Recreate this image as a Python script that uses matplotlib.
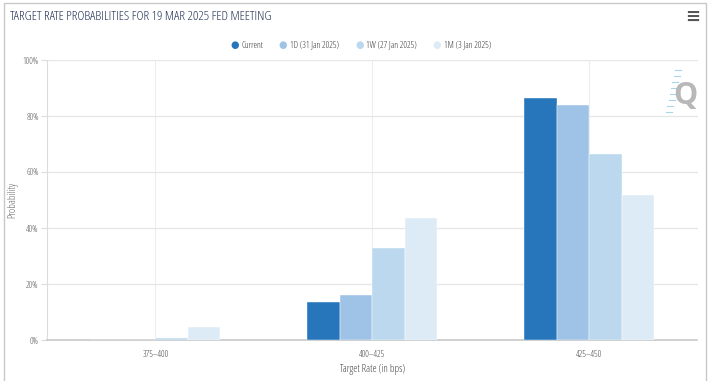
import matplotlib.pyplot as plt
import numpy as np
from matplotlib.patches import Rectangle
from matplotlib.ticker import FuncFormatter

# Target rate buckets (bps)
categories = ["375-400", "400-425", "425-450"]

# Probabilities in percent
current = [0.0, 13.6, 86.4]
one_day = [0.0, 16.1, 83.9]
one_week = [0.7, 32.9, 66.4]
one_month = [4.6, 43.6, 51.8]

series_names = ["Current", "1D (31 Jan 2025)", "1W (27 Jan 2025)", "1M (3 Jan 2025)"]
colors = ["#2775bb", "#9fc3e6", "#bcd8ee", "#ddebf7"]

# condensed Open Sans, like the original page
TXT = dict(family=["Open Sans", "DejaVu Sans"], fontstretch="condensed", fontweight="normal")


def main():
    fig = plt.figure(figsize=(7.14, 3.81), dpi=100)
    W, H = 714, 381

    # outer frame
    fig.patches.append(Rectangle((4 / W, -0.01), 702 / W, 1 - 3 / H + 0.01,
                                 transform=fig.transFigure, fill=False,
                                 edgecolor="#c8c8c8", linewidth=1))

    ax = fig.add_axes([47 / W, 41 / H, 650.5 / W, 280 / H])

    data = [current, one_day, one_week, one_month]
    x = np.arange(len(categories))
    width = 0.15
    for i, (vals, name, col) in enumerate(zip(data, series_names, colors)):
        ax.bar(x + (i - 1.5) * width, vals, width, color=col, label=name,
               edgecolor="white", linewidth=0.3, zorder=3)

    ax.set_xlim(-0.5, 2.5)
    ax.set_ylim(0, 100)
    ax.set_yticks([0, 20, 40, 60, 80, 100])
    ax.yaxis.set_major_formatter(FuncFormatter(lambda v, p: "%d%%" % v))
    ax.set_xticks(x)
    ax.set_xticklabels([c.replace("-", "\u2013") for c in categories])

    ax.grid(axis="y", color="#e6e6e6", linewidth=0.9, zorder=0)
    ax.grid(axis="x", color="#ececec", linewidth=0.7, zorder=0)
    for s in ["top", "right"]:
        ax.spines[s].set_visible(False)
    ax.spines["left"].set_color("#dcdcdc")
    ax.spines["bottom"].set_color("#c8c8c8")
    ax.spines["bottom"].set_linewidth(1.2)
    ax.tick_params(axis="y", length=4, color="#dcdcdc", labelsize=6.5, labelcolor="#555555", pad=2)
    ax.tick_params(axis="x", length=0, labelsize=6.5, labelcolor="#444444", pad=7)
    for lab in ax.get_xticklabels() + ax.get_yticklabels():
        lab.set(**TXT)

    ax.set_ylabel("Probability", fontsize=7.5, color="#666666", **TXT)
    ax.yaxis.set_label_coords(-29 / 650.5, 0.5)
    ax.set_xlabel("Target Rate (in bps)", fontsize=7.5, color="#444444", labelpad=4, **TXT)

    leg = ax.legend(loc="center", bbox_to_anchor=(360 / W, 1 - 45 / H),
                    bbox_transform=fig.transFigure, ncol=4, frameon=False,
                    handlelength=0.8, handletextpad=0.6, columnspacing=1.6,
                    prop={"family": TXT["family"], "stretch": "condensed", "size": 6.5})
    for h in leg.legend_handles:
        h.set_visible(False)
    for txt in leg.get_texts():
        txt.set_color("#333333")
    # round legend markers
    fig.canvas.draw()
    r = fig.canvas.get_renderer()
    for col, txt in zip(colors, leg.get_texts()):
        bb = txt.get_window_extent(r)
        fig.text((bb.x0 - 7) / W, (bb.y0 + bb.y1) / 2 / H, "\u25cf", color=col,
                 fontsize=7, ha="center", va="center", family="DejaVu Sans")

    fig.text(10 / W, 1 - 17 / H, "TARGET RATE PROBABILITIES FOR 19 MAR 2025 FED MEETING",
             fontsize=9.7, color="#223355", va="center", ha="left", **TXT)
    fig.text(693 / W, 1 - 17 / H, "\u2261", fontsize=13, color="#555555",
             family="DejaVu Sans", ha="center", va="center", fontweight="bold")

    # watermark
    fig.text(685 / W, 1 - 96 / H, "Q", fontsize=22, color="#b8b8b8",
             ha="center", va="center", family=["Open Sans", "DejaVu Sans"],
             fontstretch="condensed", fontweight="bold")
    for k in range(8):
        yy = 1 - (70 + k * 6) / H
        xx = (681 - k * 1.3) / W
        fig.lines.append(plt.Line2D([xx - 6 / W, xx], [yy, yy], transform=fig.transFigure,
                                    color="#a8d4ec", linewidth=0.8))

    fig.savefig("out.png", dpi=100)


if __name__ == "__main__":
    main()
